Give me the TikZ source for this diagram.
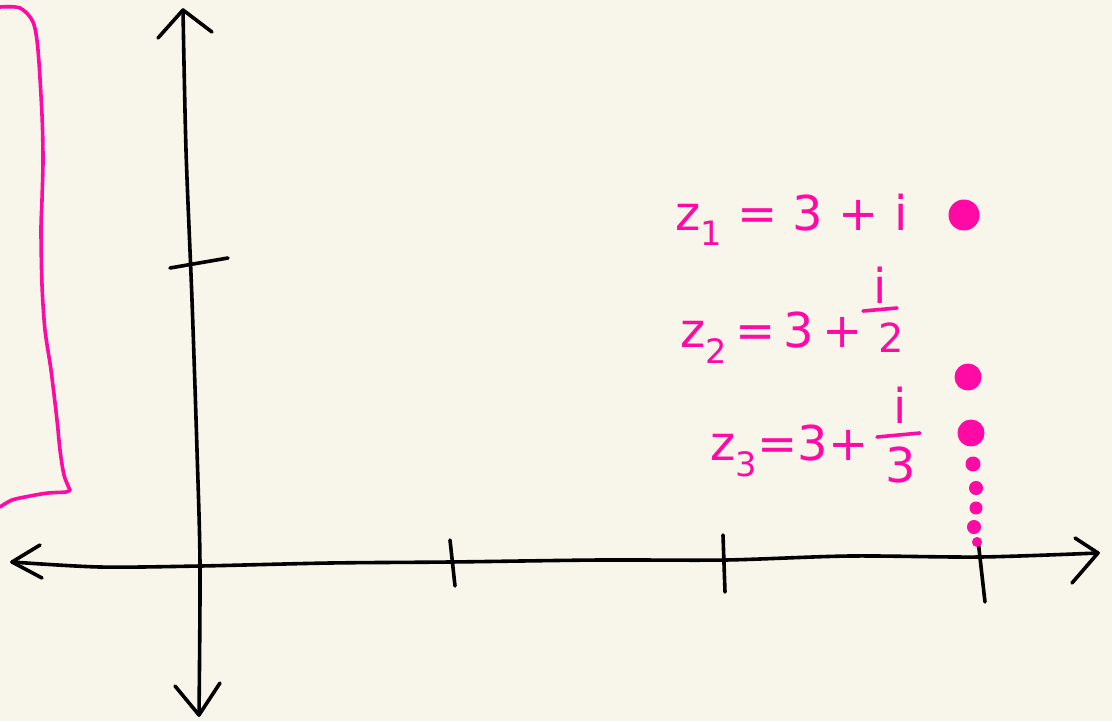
\documentclass[tikz,border=0pt]{standalone}
\usepackage{fontspec}
\setmainfont{DejaVu Sans}
\definecolor{bg}{RGB}{248,246,234}
\definecolor{pinkpen}{RGB}{255,10,165}
\begin{document}
\begin{tikzpicture}[x=1pt,y=-1pt, line cap=round, line join=round,
  axis/.style={black, line width=3.6pt},
  pen/.style={pinkpen, line width=3.6pt},
  dot/.style={fill=pinkpen, draw=pinkpen, line width=1pt},
  lbl/.style={text=pinkpen, font=\fontsize{48}{54}\selectfont, inner sep=0pt, anchor=base west},
  frc/.style={text=pinkpen, inner sep=0pt, anchor=base}]
\fill[bg] (0,0) rectangle (1112,721);
\useasboundingbox (0,0) rectangle (1112,721);

% horizontal axis
\draw[axis] plot[smooth] coordinates {(12,562) (100,567) (200,566) (330,563) (450,562) (600,560) (725,560) (850,556) (980,557) (1098,553)};
\draw[axis] (40,545) -- (12,562) -- (42,578);
\draw[axis] (1075,538) -- (1098,553) -- (1072,583);

% vertical axis
\draw[axis] plot[smooth] coordinates {(183,10) (186,150) (192,300) (197,450) (200,565) (199,715)};
\draw[axis] (158,38) -- (183,10) -- (212,32);
\draw[axis] (175,686) -- (199,715) -- (220,683);

% ticks
\draw[axis] (170,268) -- (228,258);
\draw[axis] (450,540) -- (455,586);
\draw[axis] (723,535) -- (725,592);
\draw[axis] (978,540) -- (985,602);

% pink bracket
\draw[pen] plot[smooth] coordinates {(0,7) (20,8) (33,22) (38,50) (42,115) (43,160) (42,200) (41,230) (42,285) (45,330) (51,370) (57,420) (60,450) (64,475) (70,490)};
\draw[pen] plot[smooth] coordinates {(70,490) (66,492) (48,493) (30,496) (12,500) (0,507)};

% dots
\fill[dot] (964,215) circle (15);
\fill[dot] (968,377) circle (13);
\fill[dot] (971,433) circle (13);
\fill[dot] (973,464) circle (7);
\fill[dot] (976,488) circle (6.5);
\fill[dot] (976,508) circle (6);
\fill[dot] (974,527) circle (6.5);
\fill[dot] (977,542) circle (4.5);

% labels
\node[lbl] (z1) at (675,230) {z\textsubscript{1} = 3 + i};

\node[lbl] (z2) at (680,347) {z\textsubscript{2}\,=\,3\,+};
\node[frc, font=\fontsize{48}{54}\selectfont] (z2n) at (880,303) {i};
\node[frc, font=\fontsize{40}{46}\selectfont] (z2d) at (891,352) {2};
\draw[pen] (863,311) -- (897,308);

\node[lbl] (z3) at (710,460) {z\textsubscript{3}=3+};
\node[frc, font=\fontsize{48}{54}\selectfont] (z3n) at (900,423) {i};
\node[frc, font=\fontsize{48}{54}\selectfont] (z3d) at (901,482) {3};
\draw[pen] (877,437) -- (920,433);
\end{tikzpicture}
\end{document}
